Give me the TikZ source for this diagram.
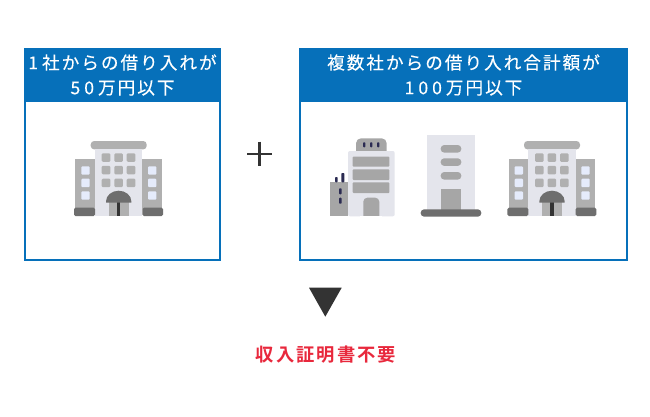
\documentclass[tikz,border=0pt]{standalone}
\usepackage{fontspec}
\newfontfamily\jpfont[LetterSpace=11.5,FakeBold=0.25]{Noto Sans CJK JP}
\newfontfamily\jpboldfont[LetterSpace=11,BoldFont={Noto Sans CJK JP Bold}]{Noto Sans CJK JP}
\newcommand{\dk}{\kern4pt}
\definecolor{boxblue}{HTML}{0670BA}
\definecolor{wallgray}{HTML}{E4E5EC}
\definecolor{midgray}{HTML}{B0B0B0}
\definecolor{bargray}{HTML}{A6A6A6}
\definecolor{basegray}{HTML}{6E6E6E}
\definecolor{glassblue}{HTML}{E5EBFB}
\definecolor{inkgray}{HTML}{333333}
\definecolor{alertred}{HTML}{E8283C}
\tikzset{
    framebox/.style={draw=boxblue,line width=2pt,fill=white},
    headbox/.style={fill=boxblue,text=white,align=center,inner sep=0pt,
        minimum height=54,font=\fontsize{17.6}{25}\selectfont\jpfont},
    pill/.style={rounded corners=3.5pt}
}
\newcommand{\officebldg}{
    \fill[midgray,pill] (90.7, 141) rectangle (146.7, 149.4);
    \fill[wallgray] (95, 149.3) rectangle (142.3, 216);
    \fill[midgray] (75.3, 159) rectangle (95, 209);
    \fill[midgray] (142.3, 159) rectangle (161.7, 209);
    \fill[basegray,rounded corners=1.5pt] (74, 207.7) rectangle (95, 216);
    \fill[basegray,rounded corners=1.5pt] (142.3, 207.7) rectangle (163, 216);
    \foreach \x in {101.7, 114.3, 126.7}{
        \foreach \y in {153.3, 165.8, 178.6}{
            \fill[midgray,rounded corners=1.2pt] (\x, \y) rectangle +(8.6, 8.6);
        }
    }
    \foreach \x in {81.3, 148}{
        \foreach \y in {166.3, 178.7, 191.3}{
            \fill[glassblue,rounded corners=1pt] (\x, \y) rectangle +(8.4, 8.4);
        }
    }
    \fill[midgray] (108.7, 202) rectangle (128.7, 216);
    \fill[inkgray] (117, 202) rectangle (120.3, 216);
    \fill[basegray] (106, 202.7) -- (106, 201.5) arc[start angle=180, end angle=360, x radius=12.7, y radius=10.8] -- (131.4, 202.7) -- cycle;
}
\begin{document}
\begin{tikzpicture}[x=1pt,y=-1pt]
    \useasboundingbox (0, 0) rectangle (650, 417);

    \draw[framebox] (25, 49) rectangle (220, 260);
    \draw[framebox] (300, 49) rectangle (627, 260);
    \node (headleft) at (122.5, 75) [headbox, minimum width=197]{1\dk 社からの借り入れが\\5\dk 0\dk 万円以下};
    \node (headright) at (463.5, 75) [headbox, minimum width=329]{複数社からの借り入れ合計額が\\1\dk 0\dk 0\dk 万円以下};

    % office with wings
    \officebldg
    \begin{scope}[shift={(433.3, 0)}]
        \officebldg
    \end{scope}

    % block with stacked floors
    \fill[bargray,rounded corners=5pt] (356, 138.3) rectangle (386.7, 156);
    \foreach \x in {364, 371, 378}{
        \fill[inkgray!85!blue,rounded corners=0.8pt] (\x-1, 142.3) rectangle +(2.4, 5);
    }
    \fill[wallgray,rounded corners=2pt] (348, 151) rectangle (394.7, 216.3);
    \foreach \y/\h in {156.7/10, 169.3/10.7, 182.3/10.7}{
        \fill[bargray,rounded corners=0.8pt] (352.7, \y) rectangle +(36.6, \h);
    }
    \fill[bargray,rounded corners=4pt] (363.3, 197.7) rectangle (379.3, 220);
    \fill[white] (360, 216.3) rectangle (382, 221);
    \fill[bargray] (329.7, 182.3) rectangle (348, 216.3);
    \fill[inkgray!85!blue,rounded corners=0.8pt] (335, 177) rectangle (337.7, 182.3);
    \fill[inkgray!85!blue,rounded corners=0.8pt] (341.3, 173) rectangle (344.3, 182.3);
    \foreach \y in {188.3, 197.7}{
        \fill[inkgray!85!blue,rounded corners=0.8pt] (339, \y) rectangle +(2.6, 6);
    }

    % plain tower
    \fill[wallgray] (427.3, 135) rectangle (475, 211);
    \foreach \y in {145, 158.3, 172}{
        \fill[bargray,rounded corners=3.5pt] (440.7, \y) rectangle +(20.6, 7.6);
    }
    \fill[bargray] (440.7, 189) rectangle (461.3, 211);
    \fill[basegray,rounded corners=3.5pt] (420.7, 209.3) rectangle (481.3, 216.7);

    % plus, arrow, result
    \draw[inkgray,line width=2.6pt] (247.3, 153.8) -- (272, 153.8);
    \draw[inkgray,line width=2.6pt] (259.7, 141.7) -- (259.7, 166);
    \fill[inkgray] (309, 287.7) -- (341.7, 287.7) -- (325.3, 316.7) -- cycle;
    \node (result) at (326, 355)[text=alertred,inner sep=0pt,font=\fontsize{18.3}{20}\selectfont\jpboldfont\bfseries]{収入証明書不要};
\end{tikzpicture}
\end{document}
